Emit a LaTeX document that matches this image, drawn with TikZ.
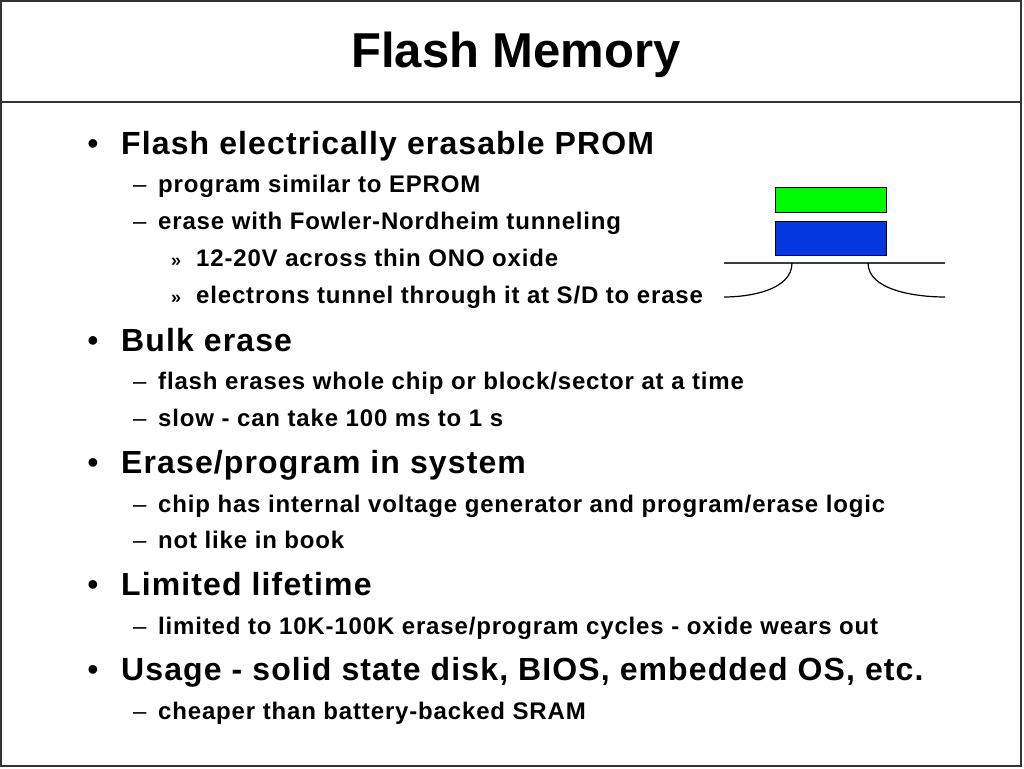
\documentclass[tikz,border=0pt]{standalone}
\usepackage{fontspec}
\setmainfont{Liberation Sans}
\newfontfamily\slidefont[LetterSpace=3.5]{Liberation Sans}
\usepackage{tikz}
\usetikzlibrary{calc}
\definecolor{fgate}{RGB}{0,250,0}
\definecolor{cgate}{RGB}{5,55,225}
\definecolor{chan}{RGB}{60,60,60}
\tikzset{
  titletext/.style={anchor=base,font=\fontsize{49}{56}\selectfont\bfseries},
  lonetext/.style={anchor=base west,inner sep=0pt,font=\slidefont\fontsize{32}{36}\selectfont\bfseries},
  ltwotext/.style={anchor=base west,inner sep=0pt,font=\slidefont\fontsize{24}{28}\selectfont\bfseries},
  lthreetext/.style={anchor=base west,inner sep=0pt,font=\slidefont\fontsize{24}{28}\selectfont\bfseries},
}
\newcommand{\lone}[3]{ \node[lonetext] (#1) at (121,#2) {#3}; \node[anchor=base,inner sep=0pt,font=\fontsize{32}{36}\selectfont] (#1m) at (93,#2) {•};}
\newcommand{\ltwo}[3]{ \node[ltwotext] (#1) at (158,#2) {#3}; \node[anchor=base west,inner sep=0pt,font=\fontsize{24}{28}\selectfont] (#1m) at (133,#2) {–};}
\newcommand{\lthree}[3]{ \node[lthreetext] (#1) at (196,#2) {#3}; \node[anchor=base west,inner sep=0pt,font=\fontsize{18}{22}\selectfont\bfseries] (#1m) at (171,#2) {»};}

\begin{document}
\begin{tikzpicture}[x=1pt,y=-1pt]
        \useasboundingbox (0,0) rectangle (1024,768);
        % frame
        \draw[line width=1.2pt,black!80] (1,1) rectangle (1021,766);
        \draw[line width=1.2pt,black!80] (1,102) -- (1021,102);
        % title
        \node[titletext] (title) at (516,67) {Flash Memory};
        % bullets
        \lone{prom}{154}{Flash electrically erasable PROM}
        \ltwo{eprom}{192}{program similar to EPROM}
        \ltwo{fn}{229}{erase with Fowler-Nordheim tunneling}
        \lthree{ono}{266}{12-20V across thin ONO oxide}
        \lthree{sd}{303}{electrons tunnel through it at S/D to erase}
        \lone{bulk}{351}{Bulk erase}
        \ltwo{chip}{389}{flash erases whole chip or block/sector at a time}
        \ltwo{slow}{426}{slow - can take 100 ms to 1 s}
        \lone{sys}{473}{Erase/program in system}
        \ltwo{gen}{512}{chip has internal voltage generator and program/erase logic}
        \ltwo{book}{548}{not like in book}
        \lone{life}{595}{Limited lifetime}
        \ltwo{cyc}{634}{limited to 10K-100K erase/program cycles - oxide wears out}
        \lone{use}{680}{Usage - solid state disk, BIOS, embedded OS, etc.}
        \ltwo{sram}{719}{cheaper than battery-backed SRAM}
        % cell
        \draw[fill=fgate,line width=1pt] (775,187) rectangle (886,212);
        \draw[fill=cgate,line width=1pt] (775,221) rectangle (886,255);
        \draw[chan,line width=1.2pt] (724,263) -- (945,263);
        \draw[line width=1.2pt] (792,263) .. controls (792,290) and (750,297) .. (724,297);
        \draw[line width=1.2pt] (868,263) .. controls (868,290) and (915,297) .. (945,297);
\end{tikzpicture}
\end{document}
